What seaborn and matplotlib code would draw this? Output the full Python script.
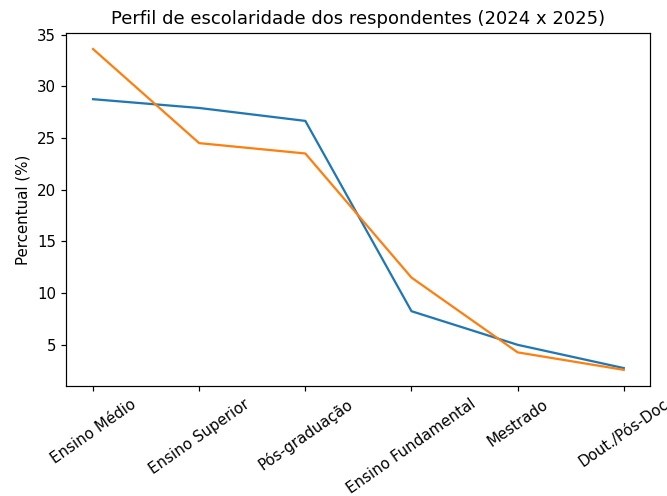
import matplotlib
matplotlib.use("Agg")
import matplotlib.pyplot as plt
import seaborn as sns
import pandas as pd

categorias = ["Ensino Médio", "Ensino Superior", "Pós-graduação",
              "Ensino Fundamental", "Mestrado", "Dout./Pós-Doc"]
valores_2024 = [28.75, 27.9, 26.65, 8.25, 5.0, 2.75]
valores_2025 = [33.6, 24.5, 23.5, 11.5, 4.27, 2.58]

df = pd.DataFrame({
    "Escolaridade": categorias * 2,
    "Percentual": valores_2024 + valores_2025,
    "Ano": ["2024"] * len(categorias) + ["2025"] * len(categorias),
})

DPI = 108
fig, ax = plt.subplots(figsize=(667 / DPI, 496 / DPI), dpi=DPI)
sns.lineplot(data=df, x="Escolaridade", y="Percentual", hue="Ano",
             palette=["#1f77b4", "#ff7f0e"], legend=False, ax=ax, sort=False)
ax.set_title("Perfil de escolaridade dos respondentes (2024 x 2025)")
ax.set_xlabel("")
ax.set_ylabel("Percentual (%)")
ax.tick_params(axis="x", rotation=35)
fig.subplots_adjust(left=0.0997, right=0.975, bottom=0.222, top=0.9335)
fig.savefig("out.png", dpi=DPI)
